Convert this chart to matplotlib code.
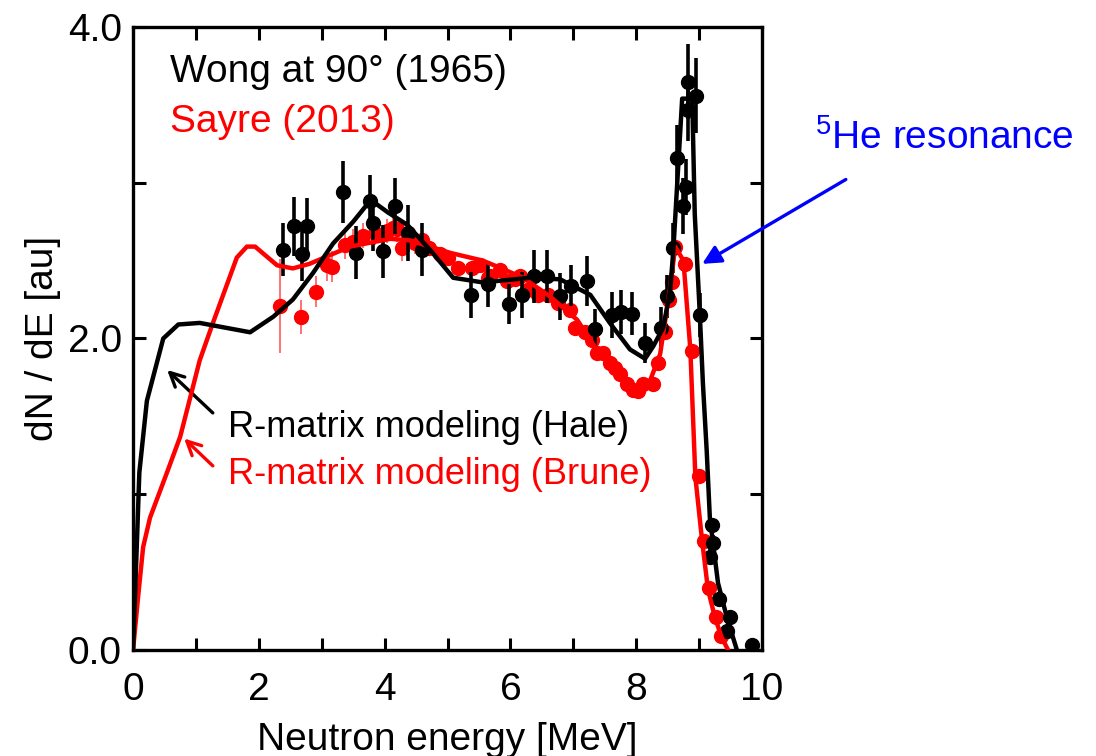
import matplotlib
matplotlib.use("Agg")
import matplotlib.pyplot as plt
from matplotlib.ticker import MultipleLocator, FormatStrFormatter

plt.rcParams['font.family'] = ['Liberation Sans', 'DejaVu Sans']
plt.rcParams['mathtext.fontset'] = 'custom'
plt.rcParams['mathtext.rm'] = 'Liberation Sans'

# R-matrix calculation (Hale)
hale_e = [0.0, 0.05, 0.10, 0.22, 0.48, 0.72, 1.06, 1.86, 2.23, 2.54, 2.86, 3.18, 3.50,
          3.72, 3.88, 4.05, 4.36, 4.72, 5.09, 5.56, 6.31, 6.79, 7.27, 7.58, 7.90, 8.14,
          8.27, 8.43, 8.54, 8.59, 8.73, 8.89, 8.93, 9.01, 9.06, 9.12, 9.17, 9.30, 9.44, 9.60]
hale_v = [0.0, 0.56, 1.14, 1.60, 2.00, 2.09, 2.10, 2.04, 2.14, 2.25, 2.42, 2.61, 2.75,
          2.86, 2.86, 2.81, 2.73, 2.57, 2.39, 2.36, 2.39, 2.38, 2.28, 2.10, 1.93, 1.87,
          1.95, 2.07, 2.31, 2.57, 3.54, 3.54, 2.80, 2.16, 1.71, 1.28, 0.85, 0.43, 0.21, 0.0]

# R-matrix calculation (Brune)
brune_e = [0.0, 0.08, 0.16, 0.27, 0.54, 0.75, 1.06, 1.27, 1.65, 1.81, 1.94, 2.29, 2.54,
           2.81, 3.45, 4.09, 4.40, 5.04, 5.56, 5.80, 6.20, 6.63, 7.06, 7.37, 7.74, 7.95,
           8.22, 8.38, 8.54, 8.62, 8.75, 8.86, 8.94, 9.05, 9.14, 9.25, 9.36, 9.46]
brune_v = [0.0, 0.34, 0.66, 0.85, 1.14, 1.37, 1.86, 2.10, 2.52, 2.59, 2.59, 2.47, 2.45,
           2.48, 2.59, 2.64, 2.63, 2.55, 2.50, 2.46, 2.39, 2.27, 2.12, 1.93, 1.75, 1.69,
           1.73, 1.90, 2.33, 2.59, 2.50, 1.93, 1.11, 0.69, 0.39, 0.21, 0.08, 0.0]

# Wong at 90 deg (1965)
wong_e = [2.39, 2.56, 2.68, 2.76, 3.34, 3.55, 3.76, 3.82, 3.97, 4.17, 4.37, 4.59, 5.38,
          5.64, 5.97, 6.18, 6.37, 6.58, 6.79, 6.97, 7.21, 7.35, 7.62, 7.75, 7.94, 8.14,
          8.40, 8.49, 8.59, 8.65, 8.75, 8.79, 8.82, 8.83, 8.95, 9.01, 9.17, 9.20, 9.22,
          9.32, 9.44, 9.49, 9.84]
wong_v = [2.57, 2.72, 2.54, 2.72, 2.94, 2.55, 2.88, 2.74, 2.56, 2.85, 2.68, 2.57, 2.28,
          2.35, 2.22, 2.28, 2.40, 2.40, 2.27, 2.34, 2.37, 2.06, 2.15, 2.17, 2.16, 1.97,
          2.07, 2.27, 2.58, 3.16, 2.85, 2.97, 3.65, 3.47, 3.56, 2.15, 0.60, 0.80, 0.69,
          0.33, 0.12, 0.21, 0.03]
wong_err = [0.17, 0.19, 0.17, 0.18, 0.20, 0.17, 0.17, 0.18, 0.17, 0.18, 0.18, 0.17, 0.15,
            0.15, 0.13, 0.15, 0.17, 0.17, 0.15, 0.13, 0.16, 0.13, 0.15, 0.14, 0.14, 0.13,
            0.13, 0.14, 0.16, 0.21, 0.18, 0.18, 0.24, 0.20, 0.24, 0.14, 0.05, 0.05, 0.05,
            0.04, 0.04, 0.04, 0.02]

# Sayre (2013)
sayre_e = [2.34, 2.67, 2.91, 3.08, 3.16, 3.37, 3.50, 3.66, 3.85, 4.04, 4.14, 4.20, 4.28,
           4.37, 4.49, 4.59, 4.70, 4.88, 5.00, 5.17, 5.39, 5.52, 5.64, 5.68, 5.83, 5.94,
           6.07, 6.15, 6.26, 6.44, 6.60, 6.76, 6.95, 7.03, 7.19, 7.30, 7.38, 7.47, 7.58,
           7.66, 7.74, 7.85, 7.95, 8.02, 8.11, 8.27, 8.35, 8.46, 8.52, 8.57, 8.62, 8.78,
           8.89, 8.99, 9.08, 9.15, 9.27, 9.35]
sayre_v = [2.21, 2.14, 2.30, 2.47, 2.46, 2.60, 2.62, 2.66, 2.68, 2.69, 2.71, 2.70, 2.58,
           2.68, 2.61, 2.63, 2.58, 2.54, 2.52, 2.45, 2.45, 2.47, 2.39, 2.40, 2.44, 2.37,
           2.38, 2.40, 2.31, 2.28, 2.28, 2.23, 2.18, 2.07, 2.04, 1.99, 1.91, 1.91, 1.84,
           1.81, 1.77, 1.71, 1.67, 1.66, 1.71, 1.71, 1.84, 2.04, 2.25, 2.36, 2.59, 2.48,
           1.92, 1.12, 0.70, 0.40, 0.21, 0.09]
sayre_err = [0.30, 0.11, 0.10, 0.10, 0.10, 0.09, 0.08, 0.08, 0.08, 0.08, 0.08, 0.08, 0.08,
             0.07, 0.07, 0.06, 0.05, 0.05, 0.05, 0.05, 0.04, 0.04, 0.04, 0.04, 0.03, 0.03,
             0.03, 0.03, 0.03, 0.03, 0.03, 0.03, 0.03, 0.03, 0.03, 0.03, 0.03, 0.03, 0.03,
             0.03, 0.03, 0.03, 0.03, 0.03, 0.03, 0.03, 0.03, 0.03, 0.03, 0.03, 0.03, 0.03,
             0.03, 0.03, 0.03, 0.02, 0.02, 0.02]

fig = plt.figure(figsize=(10.96, 7.56), dpi=100)
ax = fig.add_axes([0.1214, 0.1402, 0.5739, 0.8241])

ax.errorbar(sayre_e, sayre_v, yerr=sayre_err, fmt='o', color='red', ms=10,
            ecolor=(1, 0.35, 0.35), elinewidth=1.2, capsize=0, zorder=2)
ax.errorbar(wong_e, wong_v, yerr=wong_err, fmt='o', color='black', ms=10,
            elinewidth=2.6, capsize=0, zorder=3)
ax.plot(brune_e, brune_v, color='red', lw=3.2, zorder=4)
ax.plot(hale_e, hale_v, color='black', lw=3.2, zorder=5)

ax.set_xlim(0, 10)
ax.set_ylim(0, 4)
ax.xaxis.set_major_locator(MultipleLocator(2))
ax.xaxis.set_minor_locator(MultipleLocator(1))
ax.yaxis.set_major_locator(MultipleLocator(2))
ax.yaxis.set_minor_locator(MultipleLocator(1))
ax.yaxis.set_major_formatter(FormatStrFormatter('%.1f'))
ax.tick_params(which='both', direction='in', length=9, width=2.2,
               top=True, right=True, labelsize=28)
ax.tick_params(axis='x', pad=16)
ax.tick_params(axis='y', pad=8)
for s in ax.spines.values():
    s.set_linewidth(2.4)

ax.set_xlabel('Neutron energy [MeV]', fontsize=28, labelpad=10)
ax.set_ylabel('dN / dE [au]', fontsize=28, labelpad=5)

ax.text(0.59, 3.71, 'Wong at 90° (1965)', fontsize=28, color='black', va='center')
ax.text(0.59, 3.39, 'Sayre (2013)', fontsize=28, color='red', va='center')
ax.text(1.51, 1.43, 'R-matrix modeling (Hale)', fontsize=26, color='black', va='center')
ax.text(1.51, 1.13, 'R-matrix modeling (Brune)', fontsize=26, color='red', va='center')
ax.text(10.84, 3.29, r'$\mathregular{^{5}}$He resonance', fontsize=28, color='blue',
        va='center', clip_on=False)

ax.annotate('', xy=(0.51, 1.81), xytext=(1.30, 1.51),
            arrowprops=dict(arrowstyle='->', color='black', lw=2.4, mutation_scale=25))
ax.annotate('', xy=(0.78, 1.37), xytext=(1.30, 1.17),
            arrowprops=dict(arrowstyle='->', color='red', lw=2.4, mutation_scale=25))
ax.annotate('', xy=(9.01, 2.47), xytext=(11.37, 3.03), annotation_clip=False,
            arrowprops=dict(arrowstyle='-|>', color='blue', lw=2.4, mutation_scale=28))

fig.savefig('out.png', dpi=100)
